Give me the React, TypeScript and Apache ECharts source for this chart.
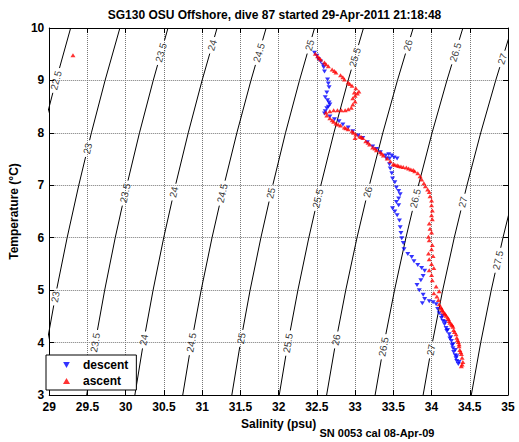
import React, { useEffect, useRef } from 'react';
import * as echarts from 'echarts';

const TITLE = 'SG130 OSU Offshore, dive 87 started 29-Apr-2011 21:18:48';
const X_LABEL = 'Salinity (psu)';
const Y_LABEL = 'Temperature (°C)';
const FOOTNOTE = 'SN 0053 cal 08-Apr-09';

const X_MIN = 29;
const X_MAX = 35;
const X_STEP = 0.5;
const Y_MIN = 3;
const Y_MAX = 10;
const Y_STEP = 1;

// Isopycnal (sigma) contours: salinity read at each temperature below
const CONTOUR_TEMPS = [3, 4, 5, 6, 7, 8, 9, 10];
const CONTOUR_LEVELS = ['22.5', '23', '23.5', '24', '24.5', '25', '25.5', '26', '26.5', '27', '27.5'];
const CONTOUR_SAL = [
  [28.23, 28.339, 28.462, 28.599, 28.749, 28.911, 29.089, 29.28],
  [28.86, 28.971, 29.095, 29.234, 29.386, 29.551, 29.73, 29.924],
  [29.49, 29.601, 29.725, 29.863, 30.015, 30.18, 30.36, 30.553],
  [30.12, 30.232, 30.358, 30.497, 30.651, 30.818, 30.999, 31.195],
  [30.746, 30.86, 30.987, 31.129, 31.285, 31.454, 31.638, 31.837],
  [31.388, 31.501, 31.627, 31.768, 31.923, 32.09, 32.273, 32.47],
  [32.008, 32.123, 32.252, 32.395, 32.552, 32.723, 32.909, 33.11],
  [32.628, 32.746, 32.878, 33.025, 33.187, 33.363, 33.554, 33.76],
  [33.262, 33.381, 33.516, 33.665, 33.829, 34.007, 34.201, 34.41],
  [33.89, 34.011, 34.146, 34.297, 34.463, 34.643, 34.839, 35.05],
  [34.52, 34.643, 34.781, 34.934, 35.103, 35.286, 35.485, 35.7],
];
// temperatures at which each contour carries an inline label
const CONTOUR_LABEL_TEMPS = [
  [9.0],
  [7.7, 4.87],
  [9.53, 6.85, 4.0],
  [9.67, 6.87, 4.05],
  [9.53, 6.85, 4.0],
  [9.67, 6.85, 4.08],
  [9.44, 6.75, 3.99],
  [9.67, 6.87, 4.05],
  [9.54, 6.75, 3.92],
  [9.41, 6.68, 3.86],
  [5.57],
];

// [salinity, temperature]
const DESCENT = [
  [32.47, 9.53], [32.5, 9.47], [32.52, 9.41], [32.55, 9.36], [32.58, 9.3], [32.59, 9.25], [32.6, 9.17],
  [32.64, 9.02], [32.65, 8.94], [32.66, 8.87], [32.63, 8.77], [32.61, 8.68], [32.64, 8.62], [32.66, 8.58],
  [32.67, 8.54], [32.65, 8.5], [32.63, 8.47], [32.61, 8.41], [32.6, 8.37],
  [32.67, 8.31], [32.73, 8.26], [32.79, 8.22], [32.84, 8.16], [32.91, 8.1], [32.97, 8.03], [33.04, 7.95],
  [33.1, 7.9], [33.16, 7.82], [33.23, 7.74], [33.28, 7.69], [33.33, 7.63],
  [33.4, 7.57], [33.44, 7.59], [33.48, 7.57], [33.51, 7.53], [33.55, 7.51], [33.45, 7.51], [33.41, 7.51],
  [33.45, 7.4], [33.46, 7.32], [33.48, 7.23], [33.49, 7.13], [33.52, 7.06], [33.54, 6.96], [33.57, 6.89],
  [33.59, 6.83], [33.57, 6.75], [33.54, 6.68], [33.57, 6.62], [33.49, 6.56], [33.52, 6.5], [33.55, 6.43],
  [33.58, 6.33], [33.59, 6.2], [33.6, 6.09], [33.61, 5.99], [33.63, 5.9], [33.64, 5.78], [33.69, 5.69],
  [33.74, 5.63], [33.77, 5.55], [33.82, 5.48], [33.87, 5.42], [33.91, 5.37], [33.89, 5.27], [33.86, 5.19],
  [33.81, 5.1], [33.84, 5.0], [33.89, 4.91], [33.91, 4.83], [33.88, 4.75], [33.97, 4.79], [34.02, 4.77],
  [34.06, 4.73], [34.08, 4.64], [34.1, 4.56],
  [34.13, 4.47], [34.14, 4.51], [34.15, 4.41], [34.17, 4.35], [34.18, 4.39], [34.19, 4.28], [34.2, 4.22],
  [34.21, 4.24], [34.23, 4.16], [34.24, 4.08], [34.25, 4.1], [34.26, 4.03], [34.27, 3.95], [34.28, 3.97],
  [34.28, 3.89], [34.29, 3.82], [34.31, 3.86], [34.31, 3.76], [34.32, 3.7], [34.33, 3.74], [34.33, 3.65],
  [34.35, 3.59], [34.36, 3.63],
];

const ASCENT = [
  [34.39, 3.55], [34.41, 3.63], [34.4, 3.71], [34.39, 3.78], [34.37, 3.86], [34.36, 3.93], [34.35, 4.01],
  [34.33, 4.09], [34.32, 4.16], [34.29, 4.24], [34.28, 4.3], [34.26, 4.35], [34.23, 4.41], [34.22, 4.45],
  [34.19, 4.51], [34.17, 4.56], [34.14, 4.62], [34.12, 4.68], [34.1, 4.73], [34.09, 4.81], [34.07, 4.88],
  [34.4, 3.58], [34.38, 3.82], [34.36, 3.97], [34.34, 4.05], [34.3, 4.2], [34.27, 4.33], [34.24, 4.38],
  [34.21, 4.48], [34.18, 4.54], [34.15, 4.59], [34.13, 4.65],
  [34.1, 4.98], [34.06, 5.07], [34.03, 4.94], [34.01, 5.19], [34.0, 5.29], [33.97, 5.38], [34.03, 5.42],
  [34.0, 5.5], [33.97, 5.59], [34.02, 5.65], [33.96, 5.7], [34.0, 5.78], [34.01, 5.86], [33.97, 5.95],
  [33.96, 6.02], [34.0, 6.1], [33.98, 6.17], [33.97, 6.27], [34.01, 6.35], [34.0, 6.43], [34.01, 6.52],
  [34.0, 6.62], [34.0, 6.71], [33.98, 6.79], [33.97, 6.87], [33.95, 6.92], [33.92, 6.98], [33.9, 7.04],
  [33.87, 7.11], [33.85, 7.17], [33.82, 7.23], [33.78, 7.27], [33.73, 7.3], [33.67, 7.34], [33.6, 7.36],
  [33.55, 7.38], [33.5, 7.4], [33.46, 7.46], [33.42, 7.51],
  [33.76, 7.29], [33.7, 7.32], [33.63, 7.35], [33.57, 7.37], [33.52, 7.39],
  [33.37, 7.57], [33.33, 7.63], [33.28, 7.67], [33.23, 7.72], [33.19, 7.78], [33.14, 7.84], [33.1, 7.9],
  [33.06, 7.93], [33.01, 7.97], [32.96, 8.03], [32.91, 8.07], [32.86, 8.1], [32.81, 8.14], [32.75, 8.18],
  [32.7, 8.24], [32.67, 8.28], [32.63, 8.33], [33.0, 7.9],
  [33.35, 7.6], [33.26, 7.7], [33.17, 7.81], [33.08, 7.92], [32.98, 8.0], [32.88, 8.09], [32.78, 8.16], [32.72, 8.21],
  [32.62, 8.39], [32.67, 8.41], [32.72, 8.43], [32.77, 8.43], [32.82, 8.43], [32.87, 8.43], [32.91, 8.45],
  [32.95, 8.48], [32.97, 8.54], [33.0, 8.6], [32.97, 8.66], [33.0, 8.71], [32.99, 8.77], [33.03, 8.75],
  [33.05, 8.79],
  [33.01, 8.85], [32.96, 8.9], [32.91, 8.96], [32.86, 9.02], [32.81, 9.1], [32.75, 9.15], [32.7, 9.21],
  [32.65, 9.27], [32.6, 9.34], [32.55, 9.4], [32.51, 9.46], [32.48, 9.51],
  [32.93, 8.93], [32.84, 9.06], [32.73, 9.18], [32.62, 9.31], [32.53, 9.43],
  [29.31, 9.48],
];

const FONT = '"Liberation Sans", Arial, Helvetica, sans-serif';

// plot box (pixels)
const GRID_LEFT = 41;
const GRID_RIGHT = 11;
const GRID_TOP = 28;
const GRID_BOTTOM = 47;
const W = 519;
const H = 442;

function salAt(sal: number[], t: number): [number, number] {
  for (let i = 0; i < CONTOUR_TEMPS.length - 1; i++) {
    const t0 = CONTOUR_TEMPS[i];
    const t1 = CONTOUR_TEMPS[i + 1];
    if (t >= t0 && t <= t1) {
      const k = (t - t0) / (t1 - t0);
      return [sal[i] + k * (sal[i + 1] - sal[i]), (sal[i + 1] - sal[i]) / (t1 - t0)];
    }
  }
  return [sal[0], 0];
}

export default function App() {
  const ref = useRef<HTMLDivElement>(null);
  useEffect(() => {
    if (!ref.current) return;
    const chart = echarts.init(ref.current, null, { renderer: 'svg' });
    const pxPerS = (W - GRID_LEFT - GRID_RIGHT) / (X_MAX - X_MIN);
    const pxPerT = (H - GRID_TOP - GRID_BOTTOM) / (Y_MAX - Y_MIN);

    const labelData: any[] = [];
    const contourSeries = CONTOUR_LEVELS.map((lvl, i) => {
      const sal = CONTOUR_SAL[i];
      // label gaps along this contour, in temperature units
      const textLen = lvl.length * 5.6 - (lvl.includes('.') ? 2.8 : 0);
      const gaps: [number, number][] = CONTOUR_LABEL_TEMPS[i].map((t) => {
        const [s, dsdt] = salAt(sal, t);
        const angRad = Math.atan2(pxPerT, dsdt * pxPerS);
        labelData.push({ value: [s, t], name: lvl, label: { rotate: (angRad * 180) / Math.PI } });
        const half = ((textLen / 2 + 3) * Math.sin(angRad)) / pxPerT;
        return [t - half, t + half];
      });
      gaps.sort((a, b) => a[0] - b[0]);
      const pts: any[] = [];
      const inGap = (t: number) => gaps.some(([a, b]) => t > a && t < b);
      CONTOUR_TEMPS.forEach((t, j) => {
        gaps.forEach(([a, b]) => {
          const prevT = j > 0 ? CONTOUR_TEMPS[j - 1] : -Infinity;
          if (a > prevT && a <= t) {
            pts.push([salAt(sal, a)[0], a]);
            pts.push('-');
          }
          if (b > prevT && b <= t) {
            pts.push([salAt(sal, b)[0], b]);
          }
        });
        if (!inGap(t)) pts.push([sal[j], t]);
      });
      return {
        type: 'line',
        name: 'sigma ' + lvl,
        data: pts,
        showSymbol: false,
        symbol: 'none',
        smooth: false,
        connectNulls: false,
        clip: true,
        silent: true,
        lineStyle: { color: '#000', width: 1 },
        z: 1,
      };
    });

    const axisCommon = {
      axisLine: { show: true, onZero: false, lineStyle: { color: '#000', width: 1 } },
      axisTick: { show: true, inside: true, length: 5, lineStyle: { color: '#000' } },
    };
    const gridLine = { show: true, lineStyle: { color: '#777', width: 1, type: 'dotted' } };

    chart.setOption({
      animation: false,
      backgroundColor: '#fff',
      grid: { left: GRID_LEFT, right: GRID_RIGHT, top: GRID_TOP, bottom: GRID_BOTTOM },
      legend: {
        data: ['descent', 'ascent'],
        orient: 'vertical',
        left: 46,
        top: 355,
        backgroundColor: '#fff',
        borderColor: '#000',
        borderWidth: 1,
        borderRadius: 0,
        padding: [4, 8, 3, 17],
        itemGap: 4,
        itemWidth: 7,
        itemHeight: 6,
        textStyle: { color: '#000', fontFamily: FONT, fontWeight: 'bold', fontSize: 12, padding: [0, 0, 0, 8] },
        z: 10,
      },
      xAxis: [
        {
          type: 'value',
          min: X_MIN,
          max: X_MAX,
          interval: X_STEP,
          position: 'bottom',
          name: X_LABEL,
          nameLocation: 'middle',
          nameGap: 19,
          nameTextStyle: { color: '#000', fontFamily: FONT, fontWeight: 'bold', fontSize: 12 },
          ...axisCommon,
          axisLabel: {
            color: '#000', fontFamily: FONT, fontWeight: 'bold', fontSize: 12, margin: 6,
            showMinLabel: true, showMaxLabel: true,
          },
          splitLine: gridLine,
          z: 0,
        },
        {
          type: 'value', min: X_MIN, max: X_MAX, interval: X_STEP, position: 'top',
          ...axisCommon, axisLabel: { show: false }, splitLine: { show: false },
        },
      ],
      yAxis: [
        {
          type: 'value',
          min: Y_MIN,
          max: Y_MAX,
          interval: Y_STEP,
          position: 'left',
          name: Y_LABEL,
          nameLocation: 'middle',
          nameGap: 23,
          nameTextStyle: { color: '#000', fontFamily: FONT, fontWeight: 'bold', fontSize: 12 },
          ...axisCommon,
          axisLabel: { color: '#000', fontFamily: FONT, fontWeight: 'bold', fontSize: 12, margin: 5 },
          splitLine: gridLine,
          z: 0,
        },
        {
          type: 'value', min: Y_MIN, max: Y_MAX, interval: Y_STEP, position: 'right',
          ...axisCommon, axisLabel: { show: false }, splitLine: { show: false },
        },
      ],
      graphic: [
        {
          type: 'text',
          x: GRID_LEFT + (W - GRID_LEFT - GRID_RIGHT) / 2,
          y: 15,
          style: {
            text: TITLE, fill: '#000', font: `bold 12px ${FONT}`,
            textAlign: 'center', align: 'center', textVerticalAlign: 'middle', verticalAlign: 'middle',
          },
        },
        {
          type: 'text',
          x: 377,
          y: 433,
          style: {
            text: FOOTNOTE, fill: '#000', font: `bold 11px ${FONT}`,
            textAlign: 'center', align: 'center', textVerticalAlign: 'middle', verticalAlign: 'middle',
          },
        },
      ],
      series: [
        ...contourSeries,
        {
          type: 'scatter',
          name: 'contour labels',
          data: labelData,
          symbol: 'circle',
          symbolSize: 2,
          itemStyle: { color: 'rgba(255,255,255,0)' },
          silent: true,
          z: 2,
          labelLayout: { hideOverlap: false },
          label: {
            show: true,
            position: 'inside',
            formatter: '{b}',
            color: '#000',
            fontFamily: FONT,
            fontSize: 10,
          },
        },
        {
          type: 'scatter',
          name: 'descent',
          data: DESCENT,
          symbol: 'path://M0,0L10,0L5,9Z',
          symbolSize: [5, 4],
          itemStyle: { color: '#0000ff' },
          z: 4,
        },
        {
          type: 'scatter',
          name: 'ascent',
          data: ASCENT,
          symbol: 'triangle',
          symbolSize: [5, 4],
          itemStyle: { color: '#ff0000' },
          z: 5,
        },
      ],
    });
    return () => chart.dispose();
  }, []);
  return <div ref={ref} style={{ position: 'fixed', left: 0, top: 0, width: W, height: H }} />;
}
